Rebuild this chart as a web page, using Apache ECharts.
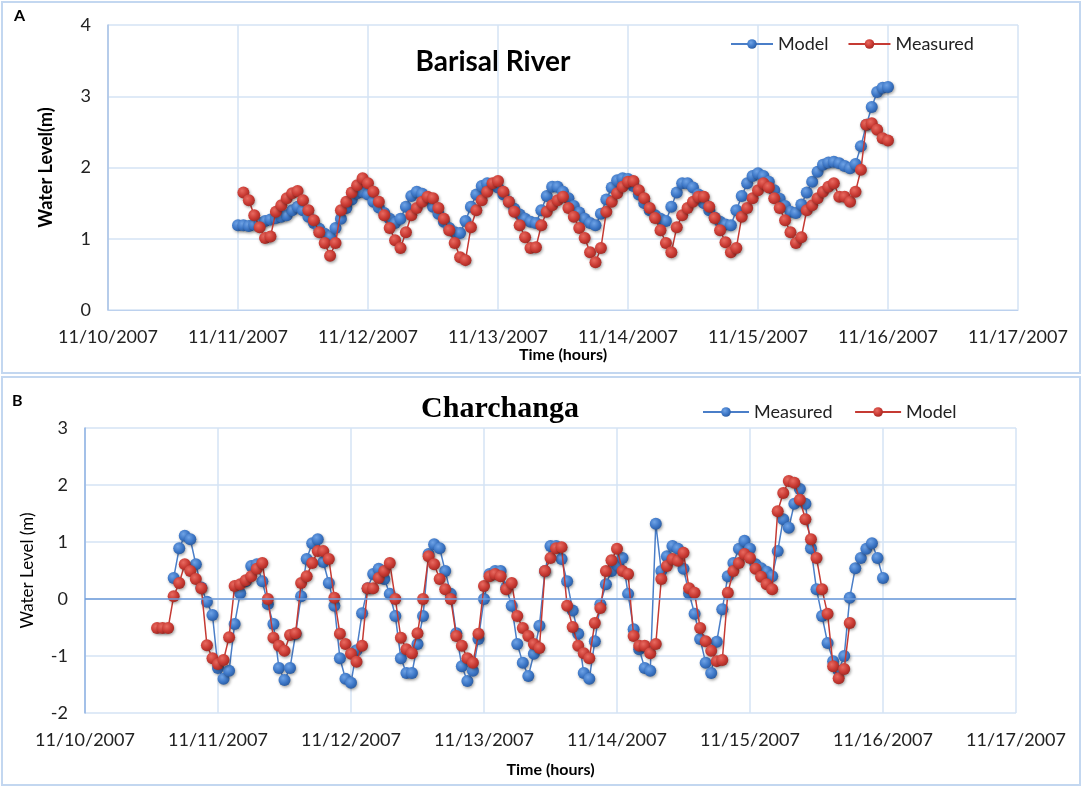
<!DOCTYPE html>
<html>
<head>
<meta charset="utf-8">
<script src="https://cdn.jsdelivr.net/npm/echarts@6/dist/echarts.min.js"></script>
<style>html,body{margin:0;padding:0;background:#fff}#c{width:1084px;height:788px}</style>
</head>
<body>
<div id="c"></div>
<script>
// ---------- DATA ----------
// x positions are hours counted from 11/10/2007 00:00
const dayLabels = ['11/10/2007','11/11/2007','11/12/2007','11/13/2007','11/14/2007','11/15/2007','11/16/2007','11/17/2007'];

// Panel A - Barisal River (hourly)
const barisalModelStart = 24;      // 11/11 00:00
const barisalModel = [
 1.19,1.19,1.18,1.20,1.22,1.25,1.27,1.29,1.31,1.33,
 1.40,1.45,1.40,1.31,1.22,1.14,1.07,1.03,1.15,1.28,
 1.43,1.55,1.64,1.66,1.62,1.52,1.44,1.36,1.28,1.22,
 1.28,1.45,1.60,1.66,1.63,1.55,1.45,1.35,1.24,1.15,
 1.09,1.08,1.25,1.45,1.62,1.74,1.78,1.77,1.72,1.62,
 1.52,1.42,1.34,1.28,1.24,1.22,1.40,1.60,1.73,1.73,
 1.66,1.57,1.46,1.37,1.28,1.22,1.19,1.35,1.55,1.72,
 1.82,1.85,1.84,1.74,1.62,1.50,1.40,1.33,1.28,1.25,
 1.45,1.65,1.78,1.78,1.72,1.62,1.50,1.40,1.30,1.24,
 1.20,1.19,1.40,1.60,1.78,1.88,1.92,1.88,1.80,1.68,
 1.56,1.46,1.38,1.36,1.48,1.65,1.80,1.94,2.04,2.07,
 2.08,2.06,2.02,1.99,2.05,2.30,2.60,2.85,3.06,3.12,
 3.13
];
const barisalMeasuredStart = 25;   // 11/11 01:00
const barisalMeasured = [
 1.65,1.54,1.33,1.16,1.01,1.03,1.38,1.47,1.57,1.64,
 1.67,1.54,1.40,1.26,1.09,0.94,0.76,0.94,1.40,1.52,
 1.65,1.75,1.85,1.78,1.66,1.52,1.33,1.15,0.98,0.87,
 1.09,1.33,1.43,1.52,1.59,1.57,1.43,1.28,1.12,0.94,
 0.74,0.70,1.16,1.40,1.54,1.66,1.78,1.81,1.66,1.52,
 1.38,1.19,1.02,0.87,0.88,1.19,1.38,1.47,1.54,1.59,
 1.43,1.31,1.15,1.01,0.81,0.67,0.87,1.38,1.52,1.64,
 1.73,1.80,1.81,1.68,1.57,1.43,1.29,1.12,0.94,0.81,
 1.16,1.33,1.43,1.52,1.59,1.59,1.45,1.29,1.12,0.95,
 0.81,0.87,1.31,1.43,1.57,1.68,1.78,1.72,1.57,1.43,
 1.26,1.09,0.94,1.02,1.40,1.47,1.57,1.66,1.73,1.78,
 1.59,1.59,1.52,1.66,1.97,2.60,2.62,2.53,2.41,2.38
];

// Panel B - Charchanga (hourly)
const charMeasuredStart = 16;      // 11/10 16:00
const charMeasured = [
 0.37,0.89,1.11,1.05,0.61,0.20,-0.05,-0.28,-1.21,-1.40,
 -1.26,-0.44,0.10,0.31,0.58,0.61,0.31,-0.09,-0.44,-1.21,
 -1.42,-1.21,-0.61,0.05,0.70,0.98,1.05,0.65,0.28,-0.12,
 -1.04,-1.40,-1.47,-0.90,-0.25,0.19,0.44,0.53,0.35,0.09,
 -0.30,-1.04,-1.30,-1.30,-0.79,-0.30,0.79,0.96,0.89,0.49,
 0.09,-0.60,-1.18,-1.44,-1.26,-0.70,0.00,0.44,0.49,0.49,
 0.20,-0.12,-0.79,-1.12,-1.35,-0.96,-0.47,0.49,0.93,0.93,
 0.70,0.31,-0.20,-0.61,-1.30,-1.40,-0.74,-0.09,0.26,0.49,
 0.60,0.72,0.09,-0.53,-0.88,-1.21,-1.26,1.32,0.49,0.75,
 0.93,0.88,0.53,0.10,-0.26,-0.70,-1.12,-1.30,-0.75,-0.18,
 0.40,0.63,0.88,1.02,0.88,0.61,0.54,0.48,0.40,0.84,
 1.40,1.25,1.67,1.93,1.67,0.89,0.17,-0.30,-0.77,-1.09,
 -1.26,-1.00,0.02,0.54,0.72,0.88,0.98,0.72,0.37
];
const charModelStart = 13;         // 11/10 13:00
const charModel = [
 -0.51,-0.51,-0.51,0.05,0.28,0.61,0.49,0.35,0.19,-0.81,
 -1.04,-1.14,-1.07,-0.67,0.23,0.26,0.33,0.40,0.53,0.63,
 0.00,-0.68,-0.82,-0.91,-0.63,-0.60,0.28,0.40,0.63,0.84,
 0.84,0.70,0.02,-0.61,-0.79,-0.96,-1.10,-0.82,0.19,0.19,
 0.37,0.49,0.63,0.00,-0.68,-0.88,-0.95,-0.60,0.00,0.75,
 0.61,0.35,0.17,0.00,-0.65,-0.82,-1.04,-1.12,-0.61,0.23,
 0.40,0.44,0.40,0.17,0.28,-0.30,-0.51,-0.65,-0.79,-0.86,
 0.49,0.72,0.89,0.91,-0.12,-0.49,-0.82,-0.95,-1.04,-0.42,
 -0.16,0.49,0.68,0.88,0.49,0.44,-0.65,-0.82,-0.82,-0.95,
 -0.79,0.35,0.58,0.70,0.67,0.81,0.19,0.11,-0.51,-0.74,
 -0.91,-1.09,-1.07,0.11,0.49,0.63,0.79,0.72,0.53,0.39,
 0.26,0.17,1.54,1.86,2.07,2.04,1.74,1.40,1.05,0.72,
 0.17,-0.26,-1.18,-1.39,-1.23,-0.42
];

const yTicksA = [0,1,2,3,4];
const yTicksB = [-2,-1,0,1,2,3];

// ---------- STYLE ----------
const FONT = 'Lato, "Open Sans", sans-serif';
const GRID_COL = '#D5E3F4';
const BLUE_LINE = '#4A7EC8';
const RED_LINE = '#C53A33';
const blueFill = {type:'radial', x:0.38, y:0.35, r:0.7, colorStops:[{offset:0,color:'#6FA3E6'},{offset:0.6,color:'#3C76C6'},{offset:1,color:'#2A5A9E'}]};
const redFill = {type:'radial', x:0.38, y:0.35, r:0.7, colorStops:[{offset:0,color:'#E86A60'},{offset:0.6,color:'#C93A33'},{offset:1,color:'#9E2A24'}]};

function pairs(start, vals){ return vals.map((v,i)=>[start+i, v]); }

function xAxisFor(gridIndex, nameGap){
  return {
    type:'value', gridIndex, min:0, max:168, interval:24,
    name:'Time (hours)', nameLocation:'middle', nameGap,
    nameTextStyle:{fontFamily:FONT, fontWeight:'bold', fontSize:16, color:'#000'},
    axisLine:{show:gridIndex===0, lineStyle:{color:'#BCD1EE', width:1}},
    axisTick:{show:false},
    axisLabel:{fontFamily:FONT, fontSize:18, color:'#222', margin:18,
      showMinLabel:true, showMaxLabel:true, hideOverlap:false,
      formatter:v=>dayLabels[Math.round(v/24)]},
    splitLine:{show:true, lineStyle:{color:GRID_COL, width:1.5}}
  };
}
function yAxisFor(gridIndex, ticks, name, bold, nameGap, axisColor){
  return {
    type:'value', gridIndex, min:ticks[0], max:ticks[ticks.length-1], interval:1,
    name, nameLocation:'middle', nameGap,
    nameTextStyle:{fontFamily:FONT, fontWeight: bold?'bold':'normal', fontSize: bold?18:17, color:'#000'},
    axisLine:{show:true, lineStyle:{color:axisColor, width:1.5}},
    axisTick:{show:false},
    axisLabel:{fontFamily:FONT, fontSize:18, color:'#222', margin:17},
    splitLine:{show:true, lineStyle:{color:GRID_COL, width:1.5}}
  };
}
function lineSeries(name, xi, yi, data, lineColor, fill, z, extra){
  return Object.assign({
    name, type:'line', xAxisIndex:xi, yAxisIndex:yi, data,
    symbol:'circle', symbolSize:12, showSymbol:true, z,
    lineStyle:{color:lineColor, width:1.5},
    itemStyle:{color:fill, borderWidth:0, shadowBlur:3, shadowColor:'rgba(0,0,0,0.35)', shadowOffsetX:1, shadowOffsetY:1.5},
    emphasis:{disabled:true},
    animation:false
  }, extra||{});
}

const chart = echarts.init(document.getElementById('c'), null, {renderer:'canvas'});
chart.setOption({
  backgroundColor:'#fff',
  animation:false,
  grid:[
    {left:108, top:25, width:910, height:285},
    {left:85, top:428, width:931, height:285}
  ],
  xAxis:[ xAxisFor(0, 37), xAxisFor(1, 49) ],
  yAxis:[
    yAxisFor(0, yTicksA, 'Water Level(m)', true, 53, '#A9C2E6'),
    yAxisFor(1, yTicksB, 'Water Level (m)', false, 49, '#8FB2E3')
  ],
  legend:[
    {left:725, top:30, itemWidth:42, itemHeight:12, itemGap:19,
     textStyle:{fontFamily:FONT, fontSize:18, color:'#222'},
     data:['Model','Measured']},
    {left:697, top:398, itemWidth:46, itemHeight:12, itemGap:17,
     textStyle:{fontFamily:FONT, fontSize:18, color:'#222'},
     data:['Measured ','Model ']}
  ],
  graphic:[
    {type:'rect', shape:{x:2,y:2,width:1078,height:371}, style:{fill:'none', stroke:'#C3D7F0', lineWidth:2}, silent:true, z:-1},
    {type:'rect', shape:{x:2,y:377,width:1078,height:408}, style:{fill:'none', stroke:'#C3D7F0', lineWidth:2}, silent:true, z:-1},
    {type:'text', left:14, top:8, style:{text:'A', font:'bold 16px '+FONT, fill:'#000'}},
    {type:'text', left:12, top:393, style:{text:'B', font:'bold 16px '+FONT, fill:'#000'}},
    {type:'text', x:493, y:62, style:{text:'Barisal River', font:'bold 28px '+FONT, fill:'#000', align:'center', verticalAlign:'middle'}},
    {type:'text', x:500, y:409, style:{text:'Charchanga', font:'bold 30px "Liberation Serif", "Times New Roman", serif', fill:'#000', align:'center', verticalAlign:'middle'}}
  ],
  series:[
    lineSeries('Model', 0, 0, pairs(barisalModelStart, barisalModel), BLUE_LINE, blueFill, 2),
    lineSeries('Measured', 0, 0, pairs(barisalMeasuredStart, barisalMeasured), RED_LINE, redFill, 3),
    lineSeries('Measured ', 1, 1, pairs(charMeasuredStart, charMeasured), BLUE_LINE, blueFill, 2, {
      markLine:{silent:true, symbol:'none', label:{show:false}, animation:false,
        lineStyle:{color:'#6E9BDA', width:1.5, type:'solid'}, data:[{yAxis:0}]}
    }),
    lineSeries('Model ', 1, 1, pairs(charModelStart, charModel), RED_LINE, redFill, 3)
  ]
});
</script>
</body>
</html>
